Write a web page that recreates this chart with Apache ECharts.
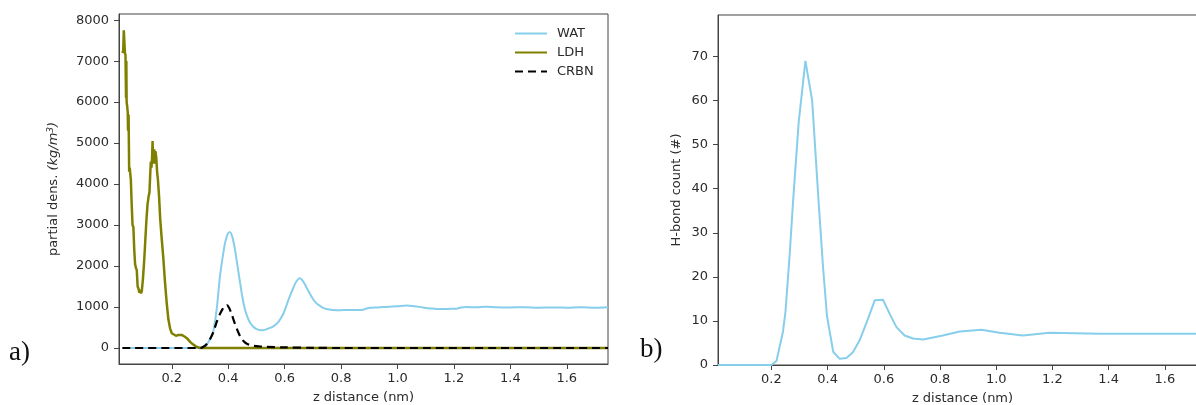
<!DOCTYPE html>
<html>
<head>
<meta charset="utf-8">
<script src="https://cdn.jsdelivr.net/npm/echarts@6/dist/echarts.min.js"></script>
<style>html,body{margin:0;padding:0;background:#fff}#c{width:1196px;height:405px}</style>
</head>
<body>
<div id="c"></div>
<script>
// ---- Panel a) partial density ----
const watX = [0.025,0.30,0.318,0.33,0.347,0.36,0.371,0.38,0.389,0.398,0.406,0.415,0.424,0.433,0.442,0.45,0.459,0.468,0.477,0.489,0.501,0.512,0.524,0.54,0.56,0.578,0.595,0.607,0.619,0.631,0.642,0.654,0.666,0.678,0.69,0.701,0.713,0.725,0.737,0.749,0.77,0.796,0.82,0.845,0.867,0.885,0.902,0.93,0.95,0.972,1.0,1.032,1.06,1.09,1.12,1.15,1.18,1.209,1.225,1.244,1.28,1.31,1.35,1.40,1.45,1.50,1.55,1.60,1.65,1.70,1.746];
const watY = [0,0,20,150,400,1000,1760,2200,2570,2780,2830,2700,2400,2000,1600,1250,950,760,620,520,460,440,435,470,530,640,830,1050,1270,1470,1630,1700,1620,1470,1320,1190,1090,1030,980,950,930,920,930,925,925,950,980,990,1000,1005,1020,1040,1020,990,965,950,955,960,990,1000,995,1005,995,990,995,985,990,985,995,985,995];

const ldhX = [0.025,0.028,0.030,0.032,0.034,0.036,0.038,0.039,0.040,0.042,0.044,0.045,0.047,0.049,0.051,0.053,0.055,0.058,0.061,0.064,0.067,0.070,0.073,0.076,0.079,0.082,0.085,0.088,0.091,0.094,0.098,0.102,0.106,0.110,0.114,0.118,0.121,0.124,0.126,0.128,0.130,0.132,0.134,0.136,0.138,0.140,0.142,0.145,0.148,0.151,0.155,0.159,0.164,0.170,0.176,0.182,0.188,0.194,0.200,0.206,0.215,0.225,0.235,0.245,0.255,0.265,0.275,0.285,0.300,1.746];
const ldhY = [7200,7250,7750,7780,7200,7150,6100,7000,6000,5900,5750,5300,5700,4300,4400,4250,4100,3500,3000,2950,2400,2050,1950,1900,1500,1450,1350,1420,1330,1400,1700,2100,2600,3100,3500,3700,3800,4300,4550,4400,4600,5050,4500,4750,4850,4500,4800,4650,4300,4100,3700,3150,2700,2200,1600,1100,700,480,360,320,300,320,320,280,230,150,90,40,0,0];

const crbnX = [0.025,0.30,0.312,0.324,0.336,0.348,0.359,0.37,0.38,0.388,0.395,0.403,0.412,0.424,0.436,0.447,0.459,0.474,0.489,0.51,0.536,0.6,0.7,0.8,1.746];
const crbnY = [0,0,30,100,220,400,630,820,950,1030,1050,980,830,590,380,230,140,80,55,40,30,15,5,0,0];

const densTicks = [0,1000,2000,3000,4000,5000,6000,7000,8000];
const zTicks = [0.2,0.4,0.6,0.8,1.0,1.2,1.4,1.6];

// ---- Panel b) H-bond count ----
const hbX = [0.01,0.05,0.10,0.15,0.20,0.218,0.241,0.25,0.265,0.277,0.297,0.321,0.345,0.368,0.384,0.398,0.42,0.443,0.467,0.49,0.514,0.544,0.568,0.597,0.621,0.645,0.674,0.704,0.74,0.81,0.87,0.947,1.012,1.095,1.19,1.369,1.55,1.75];
const hbY = [0,0,0,0,0,0.9,7.5,12,25,37,55,69,60,37,22,11,3,1.4,1.6,2.9,5.6,10.5,14.7,14.8,11.6,8.6,6.7,6.0,5.8,6.7,7.6,8.0,7.3,6.7,7.3,7.1,7.1,7.1];
const hbTicks = [0,10,20,30,40,50,60,70];

const zip = (xs, ys) => xs.map((x, i) => [x, ys[i]]);

const FONT = 'DejaVu Sans';
const AX = '#444';
const TXT = '#2b2b2b';

function xAxisCfg(gridIndex) {
  return {
    type: 'value', gridIndex, min: gridIndex === 0 ? 0.013 : 0.01, max: gridIndex === 0 ? 1.746 : 1.75,
    name: 'z distance (nm)', nameLocation: 'middle', nameGap: 27,
    nameTextStyle: { fontFamily: FONT, fontSize: 13, color: TXT },
    axisLine: { show: true, onZero: false, lineStyle: { color: AX, width: 1 } },
    axisTick: { show: true, length: 5, lineStyle: { color: AX }, customValues: zTicks },
    axisLabel: { fontFamily: FONT, fontSize: 13, color: TXT, margin: 8, customValues: zTicks,
      formatter: v => Number(v).toFixed(1) },
    splitLine: { show: false }
  };
}

const option = {
  animation: false,
  backgroundColor: '#fff',
  grid: [
    { left: 119, right: 588, top: 14, bottom: 41, show: true, borderColor: AX, borderWidth: 1,
      containLabel: false, outerBoundsMode: 'none' },
    { left: 718, right: -11, top: 15, bottom: 40, show: true, borderColor: AX, borderWidth: 1,
      containLabel: false, outerBoundsMode: 'none' }
  ],
  xAxis: [xAxisCfg(0), xAxisCfg(1)],
  yAxis: [
    {
      type: 'value', gridIndex: 0, min: -390, max: 8150,
      name: 'partial dens. {it|(kg/m}{sup|3}{it|)}', nameLocation: 'middle', nameGap: 58, nameRotate: 90,
      nameTextStyle: { fontFamily: FONT, fontSize: 13, color: TXT,
        rich: { it: { fontFamily: FONT, fontSize: 13, fontStyle: 'italic', color: TXT },
                sup: { fontFamily: FONT, fontSize: 9, fontStyle: 'italic', color: TXT, verticalAlign: 'top', padding: [0,0,6,0] } } },
      axisLine: { show: true, lineStyle: { color: AX, width: 1 } },
      axisTick: { show: true, length: 5, lineStyle: { color: AX }, customValues: densTicks },
      axisLabel: { fontFamily: FONT, fontSize: 13, color: TXT, margin: 10, customValues: densTicks, formatter: v => String(v) },
      splitLine: { show: false }
    },
    {
      type: 'value', gridIndex: 1, min: 0, max: 79.4,
      name: 'H-bond count (#)', nameLocation: 'middle', nameGap: 35,
      nameTextStyle: { fontFamily: FONT, fontSize: 13, color: TXT },
      axisLine: { show: true, lineStyle: { color: AX, width: 1 } },
      axisTick: { show: true, length: 5, lineStyle: { color: AX }, customValues: hbTicks },
      axisLabel: { fontFamily: FONT, fontSize: 13, color: TXT, margin: 10, customValues: hbTicks, formatter: v => String(v) },
      splitLine: { show: false }
    }
  ],
  legend: {
    orient: 'vertical', left: 509, top: 22, itemWidth: 32, itemHeight: 14, itemGap: 6,
    itemStyle: { opacity: 0 },
    textStyle: { fontFamily: FONT, fontSize: 13, color: TXT, padding: [0,0,0,5] },
    data: ['WAT', 'LDH', 'CRBN']
  },
  series: [
    { name: 'WAT', type: 'line', xAxisIndex: 0, yAxisIndex: 0, data: zip(watX, watY), symbol: 'none', smooth: 0.3,
      lineStyle: { color: '#87CEEB', width: 2 }, itemStyle: { color: '#87CEEB' } },
    { name: 'LDH', type: 'line', xAxisIndex: 0, yAxisIndex: 0, data: zip(ldhX, ldhY), symbol: 'none',
      lineStyle: { color: '#808000', width: 2.5 }, itemStyle: { color: '#808000' } },
    { name: 'CRBN', type: 'line', xAxisIndex: 0, yAxisIndex: 0, data: zip(crbnX, crbnY), symbol: 'none', smooth: 0.3,
      lineStyle: { color: '#000', width: 2.2, type: [8, 5] }, itemStyle: { color: '#000' } },
    { name: 'H-bond', type: 'line', xAxisIndex: 1, yAxisIndex: 1, data: zip(hbX, hbY), symbol: 'none',
      lineStyle: { color: '#87CEEB', width: 2 }, itemStyle: { color: '#87CEEB' } }
  ],
  graphic: [
    { type: 'text', left: 9, top: 339, style: { text: 'a)', font: '27px "Liberation Serif"', fill: '#111' } },
    { type: 'text', left: 640, top: 336, style: { text: 'b)', font: '27px "Liberation Serif"', fill: '#111' } }
  ]
};

const chart = echarts.init(document.getElementById('c'), null, { renderer: 'canvas' });
chart.setOption(option);
</script>
</body>
</html>
